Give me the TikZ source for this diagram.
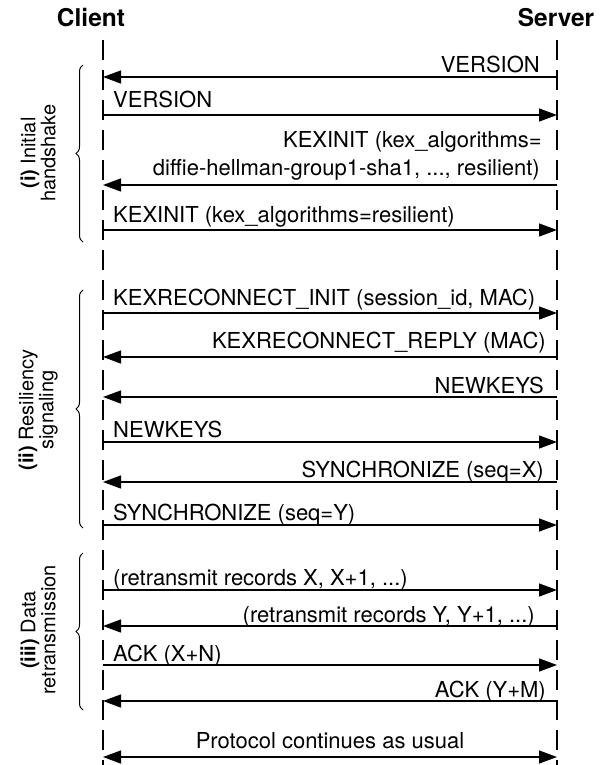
\documentclass[tikz,border=0pt]{standalone}
\usepackage{fontspec}
\setmainfont{TeX Gyre Heros}
\usetikzlibrary{arrows.meta,decorations.pathreplacing}
\begin{document}
\begin{tikzpicture}[x=1pt,y=-1pt,
  life/.style={line width=1.6pt,dash pattern=on 20pt off 10pt},
  msg/.style={line width=1.3pt,-{Triangle[length=18pt,width=13pt]}},
  both/.style={line width=1.3pt,{Triangle[length=18pt,width=13pt]}-{Triangle[length=18pt,width=13pt]}},
  lbl/.style={inner sep=0pt,font=\fontsize{22}{26}\selectfont},
  lblr/.style={lbl,anchor=base east},
  lbll/.style={lbl,anchor=base west},
  title/.style={inner sep=0pt,anchor=base,font=\fontsize{24.5}{28}\selectfont\bfseries},
  phase/.style={inner sep=0pt,rotate=90,align=center,font=\fontsize{20}{20}\selectfont},
  bracestyle/.style={line width=1pt,decorate,decoration={brace,amplitude=7pt}}]
\useasboundingbox (0,0) rectangle (604,765);
% titles
\node[title] (tc) at (91,27) {Client};
\node[title] (ts) at (556,27) {Server};
% lifelines
\coordinate (ctop) at (103,40);
\coordinate (cbot) at (103,765);
\coordinate (stop) at (557,40);
\coordinate (sbot) at (557,765);
\draw[life] (ctop) -- (cbot);
\draw[life] (stop) -- (sbot);
% message endpoints
\foreach \i/\y in {1/77,2/115,3/185,4/230,5/313,6/357,7/397,8/442,9/482,10/525,11/590,12/626,13/665,14/701,15/757}{
  \coordinate (c\i) at (103,\y);
  \coordinate (s\i) at (557,\y);
}
% (i)
\draw[msg] (s1) -- (c1);
\node[lblr] (l1) at (540,73) {VERSION};
\draw[msg] (c2) -- (s2);
\node[lbll] (l2) at (113,108) {VERSION};
\draw[msg] (s3) -- (c3);
\node[lblr] (l3a) at (542,147) {KEXINIT (kex\_algorithms=};
\node[lblr] (l3b) at (540,175) {diffie-hellman-group1-sha1, ..., resilient)};
\draw[msg] (c4) -- (s4);
\node[lbll] (l4) at (113,222) {KEXINIT (kex\_algorithms=resilient)};
% (ii)
\draw[msg] (c5) -- (s5);
\node[lbll] (l5) at (113,305) {KEXRECONNECT\_INIT (session\_id, MAC)};
\draw[msg] (s6) -- (c6);
\node[lblr] (l6) at (546,348) {KEXRECONNECT\_REPLY (MAC)};
\draw[msg] (s7) -- (c7);
\node[lblr] (l7) at (544,393) {NEWKEYS};
\draw[msg] (c8) -- (s8);
\node[lbll] (l8) at (113,437) {NEWKEYS};
\draw[msg] (s9) -- (c9);
\node[lblr] (l9) at (544,477) {SYNCHRONIZE (seq=X)};
\draw[msg] (c10) -- (s10);
\node[lbll] (l10) at (113,520) {SYNCHRONIZE (seq=Y)};
% (iii)
\draw[msg] (c11) -- (s11);
\node[lbll] (l11) at (113,585) {(retransmit records X, X+1, ...)};
\draw[msg] (s12) -- (c12);
\node[lblr] (l12) at (535,622) {(retransmit records Y, Y+1, ...)};
\draw[msg] (c13) -- (s13);
\node[lbll] (l13) at (113,661) {ACK (X+N)};
\draw[msg] (s14) -- (c14);
\node[lblr] (l14) at (546,697) {ACK (Y+M)};
\draw[both] (c15) -- (s15);
\node[lbl,anchor=base] (l15) at (330,748) {Protocol continues as usual};
% braces
\coordinate (b1t) at (83,65);  \coordinate (b1b) at (83,242);
\coordinate (b2t) at (83,290); \coordinate (b2b) at (83,528);
\coordinate (b3t) at (83,553); \coordinate (b3b) at (83,710);
\draw[bracestyle] (b1b) -- (b1t);
\draw[bracestyle] (b2b) -- (b2t);
\draw[bracestyle] (b3b) -- (b3t);
\node[phase] (p1) at (38,153) {\textbf{(i)} Initial\\handshake};
\node[phase] (p2) at (38,410) {\textbf{(ii)} Resiliency\\signaling};
\node[phase] (p3) at (38,630) {\textbf{(iii)} Data\\retransmission};
\end{tikzpicture}
\end{document}
